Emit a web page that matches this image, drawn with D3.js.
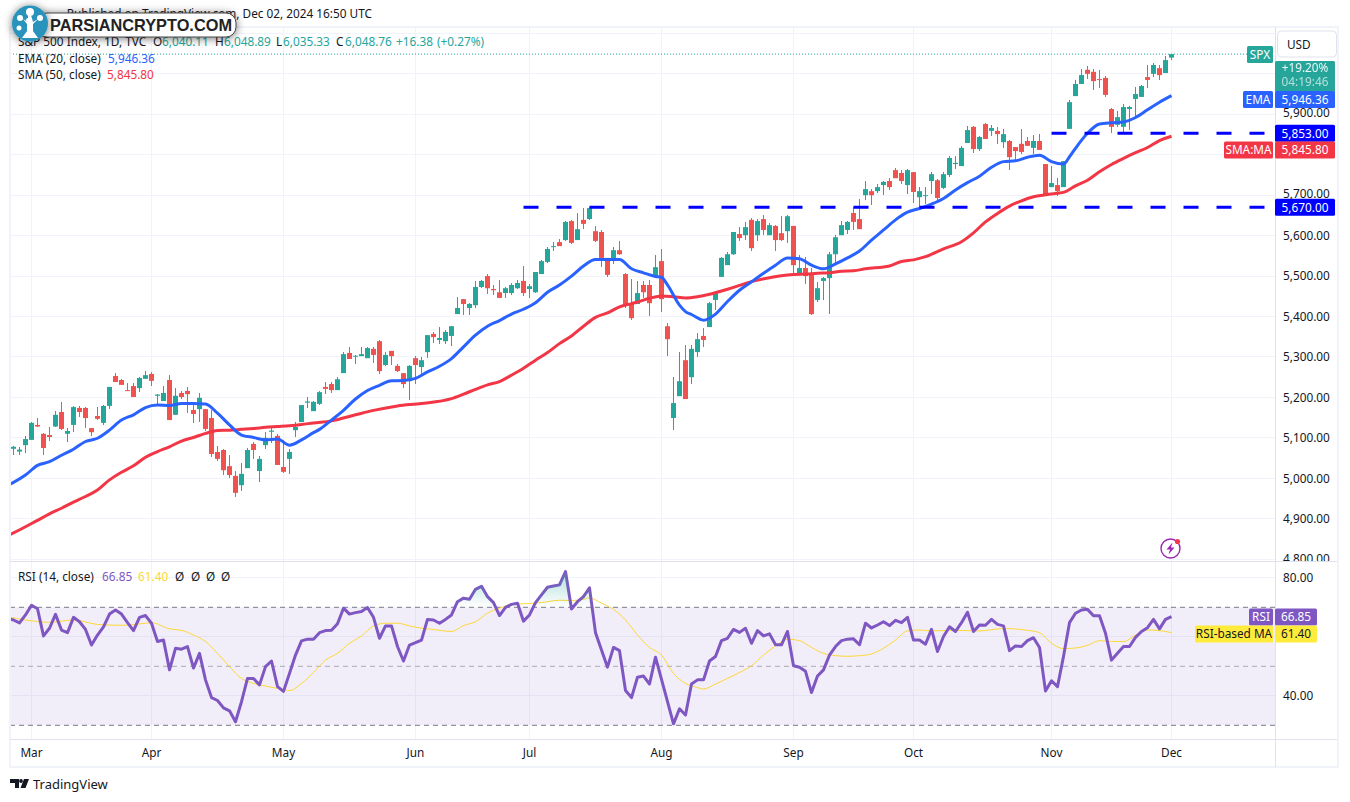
<!DOCTYPE html>
<html><head><meta charset="utf-8">
<script src="https://cdn.jsdelivr.net/npm/d3@7"></script>
<style>
html,body{margin:0;padding:0;background:#fff;overflow:hidden}
svg{display:block}
text{font-family:"Noto Sans",sans-serif;font-size:11.8px;fill:#131722}
</style></head><body>
<svg id="c" width="1350" height="802"></svg>
<script>
// ---------- data ----------
const firstBar=-3;
const opens=[5073,5066,5082,
5095,5132,5110,5107,5128,5164,5110,5132,5174,5174,
5124,5154,5137,5179,5253,5243,5218,5228,5223,5246,
5258,5204,5191,5243,5157,5211,5216,5169,5171,5171,
5149,5065,5070,5030,5006,4983,5025,5085,5018,5082,
5115,5105,5028,5048,5119,5139,5187,5166,5184,5226,
5233,5218,5260,5310,5301,5302,5297,5320,5339,5280,
5315,5278,5260,5240,5297,5275,5312,5357,5342,5339,
5352,5406,5443,5421,5428,5473,5500,5468,5460,5458,
5458,5470,5488,5468,5460,5505,5535,5572,5584,5589,
5636,5589,5639,5641,5611,5609,5545,5540,5564,5505,
5431,5431,5478,5478,5500,5537,5376,5149,5203,5292,
5250,5312,5352,5374,5441,5498,5527,5554,5604,5601,
5639,5601,5641,5601,5624,5606,5611,5624,5505,5520,
5507,5441,5488,5495,5554,5601,5614,5656,5641,5700,
5710,5710,5725,5735,5762,5755,5725,5757,5695,5698,
5735,5737,5718,5750,5777,5772,5829,5869,5814,5876,
5859,5859,5831,5834,5819,5827,5834,5817,5834,5777,
5720,5725,5720,5864,5945,5975,6010,6005,5987,5990,
5913,5874,5869,5913,5938,5943,5992,6000,6014,6002,
6040.11];
const highs=[5080,5077,5105,
5140,5149,5111,5126,5166,5189,5124,5179,5179,5176,
5124,5176,5181,5226,5260,5246,5235,5236,5250,5265,
5263,5208,5228,5255,5223,5216,5226,5181,5211,5171,
5169,5080,5072,5058,5018,5038,5075,5090,5055,5114,
5124,5110,5095,5072,5139,5181,5201,5191,5216,5238,
5238,5250,5312,5324,5305,5324,5324,5324,5342,5312,
5315,5282,5260,5280,5302,5300,5354,5362,5374,5367,
5376,5448,5443,5433,5488,5490,5505,5478,5490,5473,
5483,5490,5525,5480,5510,5540,5572,5584,5592,5636,
5639,5656,5668,5671,5624,5614,5545,5572,5587,5507,
5493,5488,5488,5490,5552,5567,5384,5250,5312,5329,
5329,5359,5371,5436,5463,5547,5559,5609,5621,5634,
5643,5641,5651,5631,5626,5648,5651,5624,5552,5547,
5520,5485,5498,5559,5601,5636,5636,5671,5690,5735,
5715,5728,5735,5742,5767,5762,5765,5757,5720,5720,
5757,5740,5757,5797,5797,5822,5871,5871,5846,5878,
5874,5869,5864,5836,5819,5864,5844,5849,5851,5777,
5772,5742,5784,5935,5985,6012,6019,6012,6010,5995,
5916,5908,5925,5921,5967,5972,6022,6027,6022,6044,
6048.89];
const lows=[5058,5058,5063,
5095,5126,5058,5092,5126,5119,5090,5114,5152,5124,
5105,5144,5132,5171,5238,5231,5216,5201,5213,5246,
5228,5181,5191,5144,5157,5196,5161,5137,5139,5117,
5053,5043,5008,5001,4954,4969,5025,5048,4991,5072,
5087,5033,5013,5011,5102,5139,5174,5166,5181,5208,
5211,5218,5260,5295,5282,5302,5297,5285,5258,5278,
5280,5263,5223,5193,5233,5258,5297,5334,5332,5332,
5327,5406,5404,5404,5421,5470,5456,5453,5446,5446,
5453,5468,5451,5446,5458,5505,5532,5562,5574,5587,
5579,5589,5616,5639,5584,5522,5498,5530,5552,5421,
5391,5431,5446,5401,5495,5411,5302,5119,5203,5196,
5233,5300,5324,5374,5416,5498,5527,5552,5587,5589,
5562,5587,5601,5601,5562,5587,5582,5505,5505,5480,
5404,5436,5441,5406,5532,5601,5604,5614,5616,5688,
5676,5705,5700,5713,5742,5728,5703,5681,5671,5678,
5703,5688,5715,5745,5765,5772,5829,5804,5809,5839,
5846,5827,5817,5762,5784,5802,5822,5802,5812,5700,
5720,5698,5720,5864,5945,5975,5987,5960,5965,5943,
5854,5869,5856,5861,5891,5943,5965,5992,5985,6002,
6035.33];
const closes=[5078,5071,5097,
5137,5128,5075,5102,5157,5122,5117,5176,5164,5149,
5114,5147,5179,5226,5238,5231,5216,5201,5248,5255,
5241,5207,5211,5144,5204,5201,5208,5159,5199,5122,
5060,5048,5020,5008,4964,5011,5070,5070,5048,5100,
5118,5033,5016,5065,5127,5181,5190,5189,5213,5221,
5218,5245,5307,5295,5303,5307,5322,5305,5265,5305,
5302,5265,5233,5278,5280,5292,5354,5349,5347,5362,
5376,5421,5431,5431,5473,5488,5470,5465,5446,5470,
5478,5483,5458,5475,5510,5537,5567,5574,5574,5634,
5582,5616,5629,5668,5587,5545,5503,5564,5554,5426,
5396,5458,5460,5433,5522,5443,5344,5186,5240,5196,
5320,5344,5342,5433,5458,5545,5554,5609,5594,5621,
5569,5636,5614,5626,5589,5589,5648,5527,5520,5500,
5406,5470,5495,5554,5596,5626,5634,5634,5616,5715,
5700,5720,5733,5720,5742,5735,5762,5708,5710,5700,
5752,5693,5752,5792,5780,5817,5861,5814,5844,5839,
5866,5851,5851,5794,5809,5807,5822,5834,5812,5700,
5730,5710,5784,5930,5975,5997,6000,5982,5985,5948,
5869,5893,5918,5918,5950,5970,5985,6022,5997,6034,
6048.76];

const emaBars=[-4,-3,-1,1,3,5,7,9,11,13,15,17,19,21,23,25,27,29,31,33,35,37,39,41,43,45,47,48,50,52,54,56,58,60,62,64,66,68,70,72,74,76,78,80,82,84,86,88,90,92,94,96,98,100,102,104,105,106,108,109,110,112,114,116,118,120,122,124,126,128,130,132,134,136,138,140,142,144,146,148,150,152,154,156,158,160,162,164,166,168,170,172,173,174,176,178,180,182,184,186,188,190];
const emaValues=[4983,4990,5008,5032,5041,5057,5072,5091,5099,5119,5144,5157,5175,5181,5180,5185,5185,5184,5161,5132,5107,5101,5095,5097,5082,5095,5113,5121,5144,5168,5196,5217,5230,5241,5242,5247,5263,5277,5296,5325,5354,5376,5390,5406,5418,5434,5460,5478,5500,5525,5541,5541,5541,5518,5508,5499,5497,5478,5428,5412,5405,5391,5406,5437,5465,5486,5507,5527,5545,5543,5527,5518,5530,5545,5562,5589,5614,5639,5658,5667,5678,5692,5713,5731,5747,5769,5783,5785,5794,5799,5783,5777,5795,5816,5853,5876,5879,5881,5892,5911,5930,5946.36];
const smaBars=[-4,-3,1,3,5,7,9,11,13,15,17,19,21,23,25,27,29,31,33,35,37,39,41,43,45,47,50,54,57,61,65,70,72,74,76,78,80,82,84,86,88,90,92,94,96,98,100,101,103,105,107,109,111,113,115,117,119,121,123,125,127,129,131,133,135,137,139,143,145,147,149,152,155,157,159,161,163,165,167,169,171,172,174,176,178,180,182,184,186,188,190];
const smaValues=[4858,4865,4896,4912,4926,4941,4955,4971,4996,5015,5031,5052,5066,5078,5092,5101,5111,5118,5119,5121,5123,5126,5128,5130,5133,5137,5142,5157,5168,5179,5185,5197,5208,5220,5231,5239,5255,5272,5292,5311,5333,5352,5376,5398,5409,5424,5432,5436,5445,5451,5449,5446,5449,5455,5463,5472,5482,5490,5496,5501,5504,5505,5507,5508,5512,5513,5518,5525,5536,5540,5548,5567,5585,5607,5634,5655,5673,5686,5696,5701,5705,5707,5723,5737,5758,5776,5791,5805,5818,5835,5845.80];

const rsiValues=[66.3,65.7,64.7,67.4,
70.7,69.5,60.3,62.9,67.6,62.3,61.4,66.6,65.1,62.5,
57.2,60.6,63.4,67.7,69.1,67.7,64.8,62.1,66.6,67.2,
64.6,58.4,58.9,48.8,56.1,55.8,56.7,49.4,54.4,45.4,
39.4,38.4,35.9,34.9,31.2,38.0,45.9,45.9,43.7,49.9,
51.8,43.1,41.5,47.6,53.8,58.6,59.2,59.2,61.4,62.1,
62.2,64.4,69.7,67.7,68.2,68.6,69.9,66.6,59.5,63.7,
63.7,56.7,51.8,57.2,58.0,58.9,65.9,65.7,64.6,65.9,
67.4,71.9,73.1,72.7,76.1,77.1,73.6,71.6,67.2,70.0,
71.0,71.4,65.3,67.4,71.6,74.2,76.8,77.2,77.6,82.1,
69.4,71.9,73.6,76.6,61.4,55.5,49.7,56.4,55.3,41.8,
39.4,46.3,46.7,44.0,53.1,45.6,38.0,30.5,35.6,33.5,
44.0,45.4,45.4,51.8,53.3,58.7,59.5,62.5,61.5,62.9,
57.8,62.1,60.3,61.0,57.3,57.3,61.8,50.2,49.7,48.3,
41.1,46.7,48.8,53.8,56.7,58.7,59.2,59.3,57.3,64.6,
63.0,64.0,65.1,63.8,65.6,64.8,66.6,58.9,58.9,57.5,
62.5,55.0,60.1,63.4,61.8,64.8,68.3,61.8,64.0,63.9,
65.9,64.2,63.7,55.3,56.9,56.7,58.7,59.7,56.4,41.6,
45.1,43.1,53.3,64.8,68.0,69.1,69.3,67.1,67.1,61.2,
52.1,54.4,56.7,56.7,59.8,61.8,63.1,65.9,62.7,65.9,
66.85];
const rsiFirstBar=-4;
const rsiMaBars=[-4,-1,3,7,11,15,19,20,23,25,27,29,31,33,35,37,39,41,43,45,47,49,51,53,55,57,59,61,63,65,67,70,72,74,76,78,80,82,84,86,88,90,92,93,95,97,99,101,103,105,107,109,111,112,114,116,118,120,122,124,126,128,130,132,134,136,138,140,142,144,146,148,150,154,158,162,166,168,170,172,174,176,178,180,182,184,186,188,190];
const rsiMaValues=[66.8,65.7,64.9,65.7,64.2,63.9,64.6,64.8,62.7,62.2,60.6,58.4,54.4,49.9,45.9,44.2,43.3,42.5,41.8,44.2,47.9,52.1,54.4,57.8,60.3,63.7,64.6,64.6,63.7,62.9,62.5,61.8,63.8,65.1,68.0,69.7,71.0,71.2,71.4,71.9,72.4,72.3,72.7,73.2,71.4,69.3,65.7,60.6,56.4,53.8,47.6,44.2,42.8,42.3,44.0,45.9,47.9,50.2,53.8,56.9,59.2,58.7,56.4,54.4,53.6,53.4,53.6,54.2,56.1,58.9,62.0,62.3,62.0,62.2,62.0,62.8,62.2,61.4,57.8,56.0,56.2,57.1,58.7,58.4,58.4,60.6,62.3,62.1,61.40];

const priceGrid=[4800,4900,5000,5100,5200,5300,5400,5500,5600,5700,5800,5900,6000,6100];
const priceLabels=[4800,4900,5000,5100,5200,5300,5400,5500,5600,5700,5900];
const nudgedLabels=[5700,5900];
const rsiGrid=[80,60,40];
const rsiTickLabels=[80,40];
const monthBars=[0,20,42,64,83,105,127,147,170,190];
const monthLabels=["Mar","Apr","May","Jun","Jul","Aug","Sep","Oct","Nov","Dec"];
const levelValues=[5670,5853];
const levelStartBars=[82,170];

// ---------- scales ----------
const teal="#26a69a",red="#ef5350",blue="#2962ff",smaRed="#f23645",purple="#7e57c2",yellow="#fdd835",lvl="#0000ff";
const L=10,R=1275,T=27,PB=561,RT=561,RB=739,FB=767;
const x=d3.scaleLinear().domain([0,190]).range([31.5,1171.5]);
const y=d3.scaleLinear().domain([5000,5900]).range([478.3,114.3]);
const yr=d3.scaleLinear().domain([30,70]).range([725.3,607.3]);
const svg=d3.select("#c");
const defs=svg.append("defs");
defs.append("clipPath").attr("id","pp").append("rect").attr("x",L).attr("y",T).attr("width",R-L).attr("height",PB-T);
defs.append("clipPath").attr("id","rp").append("rect").attr("x",L).attr("y",RT).attr("width",R-L).attr("height",RB-RT);
defs.append("clipPath").attr("id","ob").append("rect").attr("x",L).attr("y",RT).attr("width",R-L).attr("height",yr(70)-RT);
defs.append("clipPath").attr("id","ax").append("rect").attr("x",R).attr("y",T).attr("width",64).attr("height",PB-T);
const grad=defs.append("linearGradient").attr("id","obg").attr("gradientUnits","userSpaceOnUse").attr("x1",0).attr("x2",0).attr("y1",yr(83)).attr("y2",yr(70));
grad.append("stop").attr("offset",0).attr("stop-color",teal).attr("stop-opacity",.4);
grad.append("stop").attr("offset",1).attr("stop-color",teal).attr("stop-opacity",0);
const sh=defs.append("filter").attr("id","sh").attr("x","-30%").attr("y","-60%").attr("width","160%").attr("height","240%");
sh.append("feDropShadow").attr("dx",0).attr("dy",1).attr("stdDeviation",4).attr("flood-color","#000").attr("flood-opacity",.55);

// ---------- grid ----------
const grid=svg.append("g").attr("stroke","#f0f3fa").attr("stroke-width",1).attr("shape-rendering","crispEdges");
grid.selectAll("line.h").data(priceGrid.filter(d=>y(d)>T&&y(d)<PB)).join("line").attr("class","h").attr("x1",L).attr("x2",R).attr("y1",d=>Math.floor(y(d))+.5).attr("y2",d=>Math.floor(y(d))+.5);
grid.selectAll("line.r").data(rsiGrid).join("line").attr("class","r").attr("x1",L).attr("x2",R).attr("y1",d=>Math.floor(yr(d))+.5).attr("y2",d=>Math.floor(yr(d))+.5);
monthBars.forEach(b=>{
  const px=Math.floor(x(b))+.5;
  grid.append("line").attr("x1",px).attr("x2",px).attr("y1",T).attr("y2",PB);
  grid.append("line").attr("x1",px).attr("x2",px).attr("y1",RT).attr("y2",RB);
});

// ---------- candles ----------
const bars=d3.range(opens.length);
const cg=svg.append("g").attr("clip-path","url(#pp)");
cg.selectAll("line.w").data(bars).join("line").attr("class","w")
  .attr("x1",i=>x(i+firstBar)).attr("x2",i=>x(i+firstBar))
  .attr("y1",i=>y(highs[i])).attr("y2",i=>y(lows[i]))
  .attr("stroke",i=>closes[i]>=opens[i]?teal:red).attr("stroke-width",1).attr("shape-rendering","crispEdges");
cg.selectAll("rect.b").data(bars).join("rect").attr("class","b")
  .attr("x",i=>x(i+firstBar)-2.5).attr("width",5)
  .attr("y",i=>Math.min(y(opens[i]),y(closes[i])))
  .attr("height",i=>Math.max(1,Math.abs(y(opens[i])-y(closes[i]))))
  .attr("fill",i=>closes[i]>=opens[i]?teal:red);

// ---------- moving averages ----------
const lineOf=(xs,sc)=>d3.line().x((d,i)=>x(xs[i])).y(d=>sc(d)).curve(d3.curveMonotoneX);
cg.append("path").datum(smaValues).attr("d",lineOf(smaBars,y)).attr("fill","none").attr("stroke",smaRed).attr("stroke-width",3);
cg.append("path").datum(emaValues).attr("d",lineOf(emaBars,y)).attr("fill","none").attr("stroke",blue).attr("stroke-width",3);

// ---------- horizontal levels ----------
const lvlG=svg.append("g").attr("clip-path","url(#pp)");
levelValues.forEach((v,i)=>{
  lvlG.append("line").attr("x1",x(levelStartBars[i])).attr("x2",R).attr("y1",y(v)).attr("y2",y(v))
   .attr("stroke",lvl).attr("stroke-width",3).attr("stroke-dasharray","15 18");
});
svg.append("line").attr("x1",L).attr("x2",1247).attr("y1",y(closes[closes.length-1])).attr("y2",y(closes[closes.length-1]))
  .attr("stroke",teal).attr("stroke-width",1).attr("stroke-dasharray","1 2");

// ---------- RSI pane ----------
const rg=svg.append("g").attr("clip-path","url(#rp)");
rg.append("rect").attr("x",L).attr("width",R-L).attr("y",yr(70)).attr("height",yr(30)-yr(70)).attr("fill","rgba(126,87,194,.1)");
const rBars=rsiValues.map((d,i)=>i+rsiFirstBar);
svg.append("path").attr("clip-path","url(#ob)").datum(rsiValues)
  .attr("d",d3.area().x((d,i)=>x(rBars[i])).y0(yr(70)).y1(d=>yr(d))).attr("fill","url(#obg)");
[[70,"#787b86"],[50,"#a9abb3"],[30,"#787b86"]].forEach(([v,c])=>{
  rg.append("line").attr("x1",L).attr("x2",R).attr("y1",yr(v)).attr("y2",yr(v)).attr("stroke",c).attr("stroke-dasharray","5 4").attr("stroke-width",1);
});
rg.append("path").datum(rsiMaValues).attr("d",lineOf(rsiMaBars,yr)).attr("fill","none").attr("stroke",yellow).attr("stroke-width",1);
rg.append("path").datum(rsiValues).attr("d",d3.line().x((d,i)=>x(rBars[i])).y(d=>yr(d))).attr("fill","none").attr("stroke",purple).attr("stroke-width",3).attr("stroke-linejoin","round");

// ---------- frame ----------
const fr=svg.append("g").attr("shape-rendering","crispEdges");
[[L-1,T-1,1339-L+1,2],[L-1,FB-1,1339-L+1,2],[L-1,T-1,2,FB-T+2],[1337,T-1,2,FB-T+2]].forEach(r=>fr.append("rect").attr("x",r[0]).attr("y",r[1]).attr("width",r[2]).attr("height",r[3]).attr("fill","#f0f3fa"));
[[L,PB,1327,1],[L,RB,1327,1],[R,T,1,FB-T]].forEach(r=>fr.append("rect").attr("x",r[0]).attr("y",r[1]).attr("width",r[2]).attr("height",r[3]).attr("fill","#e0e3eb"));

// ---------- axes ----------
const clean=g=>{g.select(".domain").remove();g.selectAll(".tick line").remove();g.selectAll("text").attr("fill",null);g.attr("font-family",null).attr("font-size",null);};
const priceAxis=svg.append("g").attr("clip-path","url(#ax)").append("g").attr("transform","translate(1283,0)")
  .call(d3.axisRight(y).tickValues(priceLabels).tickFormat(d3.format(",.2f")).tickSize(0).tickPadding(0)).call(clean);
priceAxis.selectAll(".tick text").filter(d=>nudgedLabels.includes(d)).attr("y",-1.5);
svg.append("g").attr("transform","translate(1283,0)")
  .call(d3.axisRight(yr).tickValues(rsiTickLabels).tickFormat(d3.format(".2f")).tickSize(0).tickPadding(0)).call(clean);
svg.append("g").attr("transform",`translate(-0.5,${RB+10})`)
  .call(d3.axisBottom(x).tickValues(monthBars).tickFormat((d,i)=>monthLabels[i]).tickSize(0).tickPadding(0)).call(clean);

// ---------- right-hand tags ----------
function tag(x0,w,yc,h,fill,txt,col,op){
  svg.append("rect").attr("x",x0).attr("y",yc-h/2).attr("width",w).attr("height",h).attr("rx",1.5).attr("fill",fill);
  if(txt) svg.append("text").attr("x",x0+w/2).attr("y",yc+4.3).attr("text-anchor","middle").style("fill",col).style("opacity",op||1).text(txt);
}
tag(1247,26,54.5,17,teal,"SPX","#fff");
svg.append("rect").attr("x",1277.5).attr("y",31).attr("width",59).attr("height",26).attr("rx",4).attr("fill","#fff").attr("stroke","#e0e3eb");
svg.append("text").attr("x",1287).attr("y",49).text("USD");
svg.append("rect").attr("x",1275).attr("y",61).attr("width",60).attr("height",31).attr("rx",1.5).attr("fill",teal);
svg.append("text").attr("x",1305).attr("y",72).attr("text-anchor","middle").style("fill","#fff").style("opacity",.9).text("+19.20%");
svg.append("text").attr("x",1305).attr("y",86).attr("text-anchor","middle").style("fill","#fff").style("opacity",.65).text("04:19:46");
tag(1243,30,99.5,17,blue,"EMA","#fff");
tag(1275,60,99.5,17,blue,"5,946.36","#fff");
tag(1275,60,133.3,17,lvl,"5,853.00","#fff");
tag(1224,49,150,17,smaRed,"SMA:MA","#fff");
tag(1275,60,150,17,smaRed,"5,845.80","#fff");
tag(1275,60,207.3,17,lvl,"5,670.00","#fff");
tag(1249,24,617,17,purple,"RSI","#fff");
tag(1275,42,617,17,purple,"66.85","#fff");
tag(1195,78,634,17,"#ffeb3b","RSI-based MA","#131722");
tag(1275,42,634,17,"#ffeb3b","61.40","#131722");

// ---------- legends ----------
const lg=svg.append("g");
const put=(px,py,t,c)=>lg.append("text").attr("x",px).attr("y",py).style("fill",c||"#131722").text(t);
put(372,18,"Published on TradingView.com, Dec 02, 2024 16:50 UTC","#131722").attr("text-anchor","end");
put(18,46,"S&P 500 Index, 1D, TVC");
[["O","6,040.11",153],["H","6,048.89",215],["L","6,035.33",276],["C","6,048.76",336]].forEach(r=>{
  put(r[2],46,r[0]);
  put(r[2]+(r[0]==="L"?7:9),46,r[1],teal);
});
put(396,46,"+16.38",teal);
put(437,46,"(+0.27%)",teal);
put(18,63,"EMA (20, close)");put(108,63,"5,946.36",blue);
put(18,79,"SMA (50, close)");put(107,79,"5,845.80",smaRed);
put(18,581,"RSI (14, close)");put(102,581,"66.85",purple);put(138,581,"61.40",yellow);
[179,195,210,225].forEach(px=>put(px-4,581,"Ø"));

// ---------- watermark ----------
const wm=svg.append("g");
wm.append("rect").attr("x",37).attr("y",13).attr("width",199).attr("height",24).attr("rx",10).attr("fill","#fff").attr("stroke","#444").attr("filter","url(#sh)");
wm.append("circle").attr("cx",30).attr("cy",23.5).attr("r",18).attr("fill","#2a93bb").attr("filter","url(#sh)");
wm.append("path").attr("d","M22 38 L38 38 L33 31 L33 24 L38 19 L33 22 L31 15 L28 15 L28 22 L23 19 L27 24 L27 31 Z").attr("fill","#fff");
[[30,12,4],[20,18,3],[40,18,3],[19,28,2.5],[28,20,2]].forEach(c=>wm.append("circle").attr("cx",c[0]).attr("cy",c[1]).attr("r",c[2]).attr("fill","#fff"));
wm.append("text").attr("x",50).attr("y",31).attr("textLength",182).attr("lengthAdjust","spacingAndGlyphs").style("font-family","'Liberation Sans',sans-serif").style("font-size","17px").style("font-weight","bold").style("fill","#222").text("PARSIANCRYPTO.COM");

// ---------- lightning icon ----------
const ic=svg.append("g").attr("transform","translate(1170.5,548.5)");
ic.append("circle").attr("r",9.5).attr("fill","#fff").attr("stroke","#9c27b0").attr("stroke-width",1.4);
ic.append("path").attr("d","M2 -6 L-4 1 L-0.5 1 L-2 6 L4 -1 L0.5 -1 Z").attr("fill","#9c27b0");
ic.append("circle").attr("cx",7).attr("cy",-7).attr("r",2.6).attr("fill","#f23645");

// ---------- brand ----------
const br=svg.append("g").attr("transform","translate(10,779)");
br.append("path").attr("d","M0 0 H9 V9 H5 V4 H0 Z M10.5 9 L14 0 H19 L15.5 9 Z").attr("fill","#131722");
br.append("circle").attr("cx",11).attr("cy",2).attr("r",1.9).attr("fill","#131722");
svg.append("text").attr("x",33).attr("y",789).style("font-size","13px").text("TradingView");
</script>
</body></html>
